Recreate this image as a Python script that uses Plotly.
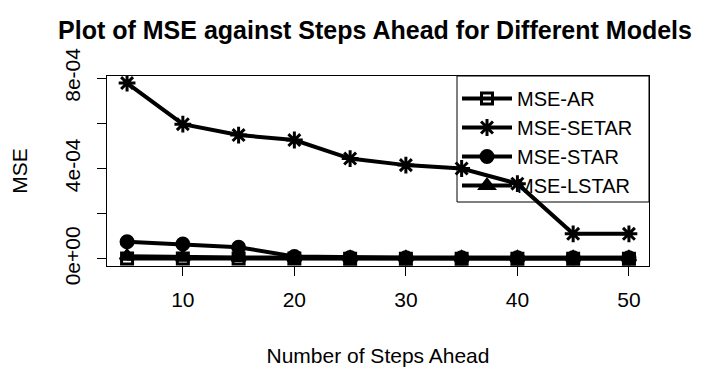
import plotly.graph_objects as go

steps = [5, 10, 15, 20, 25, 30, 35, 40, 45, 50]
mse_ar = [2e-6, 2e-6, 2e-6, 2e-6, 1e-6, 1e-6, 1e-6, 1e-6, 1e-6, 1e-6]
mse_setar = [7.78e-4, 5.96e-4, 5.48e-4, 5.26e-4, 4.44e-4, 4.15e-4, 4.0e-4, 3.33e-4, 1.11e-4, 1.11e-4]
mse_star = [7.6e-5, 6.6e-5, 5.2e-5, 1.1e-5, 6e-6, 5e-6, 5e-6, 5e-6, 5e-6, 5e-6]
mse_lstar = [1.2e-5, 8e-6, 7e-6, 6e-6, 5e-6, 5e-6, 5e-6, 5e-6, 5e-6, 5e-6]

names = ["MSE-AR", "MSE-SETAR", "MSE-STAR", "MSE-LSTAR"]
ytick_vals = [0, 2e-4, 4e-4, 6e-4, 8e-4]
ytick_text = ["0e+00", "", "4e-04", "", "8e-04"]
xtick_vals = [10, 20, 30, 40, 50]

FONT = "Arial, Liberation Sans, sans-serif"
OFF = 8  # default page body margin
W, H = 710 - OFF, 375 - OFF

fig = go.Figure()
series = [
    (mse_ar, "square-open", 11),
    (mse_setar, "asterisk-open", 14),
    (mse_star, "circle", 12),
    (mse_lstar, "triangle-up", 12),
]
for (vals, sym, sz), nm in zip(series, names):
    fig.add_trace(go.Scatter(
        x=steps, y=vals, name=nm, mode="lines+markers",
        line=dict(color="black", width=4),
        marker=dict(symbol=sym, size=sz, color="black",
                    line=dict(color="black", width=3)),
    ))

ymax = max(mse_setar)
fig.update_layout(
    width=W, height=H,
    margin=dict(l=107 - OFF, r=710 - 649, t=76 - OFF, b=375 - 266, autoexpand=False),
    paper_bgcolor="white", plot_bgcolor="white",
    font=dict(family=FONT, size=21, color="black"),
    title=dict(text="<b>Plot of MSE against Steps Ahead for Different Models</b>",
               x=(375 - OFF) / W, xref="container", xanchor="center",
               y=1 - (30 - OFF) / H, yref="container", yanchor="middle",
               font=dict(size=25, family=FONT, color="black")),
    showlegend=True,
    legend=dict(x=(457 - 107) / 542, xanchor="left", y=1 - 3 / 190, yanchor="top",
                bgcolor="rgba(0,0,0,0)", borderwidth=0,
                font=dict(size=20, family=FONT), itemwidth=50,
                tracegroupgap=0),
    shapes=[dict(type="rect", xref="paper", yref="paper",
                 x0=(457 - 107) / 542, x1=1, y0=(266 - 202) / 190, y1=1,
                 line=dict(color="black", width=1), fillcolor="rgba(0,0,0,0)")],
)
fig.update_xaxes(
    range=[3.2, 51.8], tickvals=xtick_vals, ticks="outside", ticklen=9,
    tickcolor="black", showline=True, linecolor="black", linewidth=1,
    mirror=True, showgrid=False, zeroline=False, ticklabelstandoff=6,
    automargin=False,
    title=dict(text="Number of Steps Ahead", standoff=38,
               font=dict(size=21, family=FONT)),
)
fig.update_yaxes(
    range=[-0.04 * ymax, 1.04 * ymax], tickvals=ytick_vals, ticktext=ytick_text,
    tickangle=-90, ticks="outside", ticklen=9, tickcolor="black",
    showline=True, linecolor="black", linewidth=1, mirror=True,
    showgrid=False, zeroline=False, ticklabelstandoff=9,
    automargin=False,
    title=dict(text="MSE", standoff=30, font=dict(size=21, family=FONT)),
)
fig.write_html("out.html")
